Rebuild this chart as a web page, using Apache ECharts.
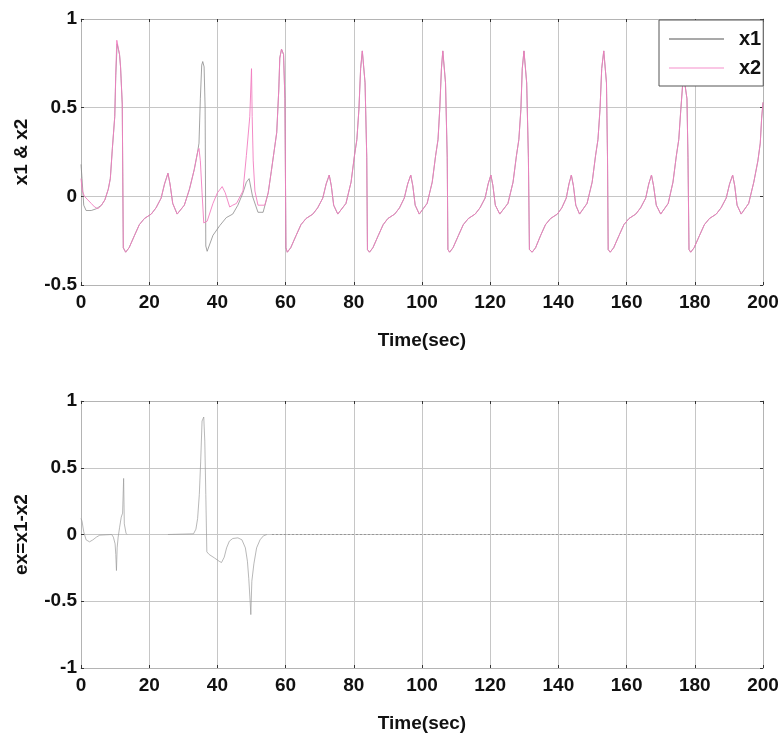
<!DOCTYPE html>
<html>
<head>
<meta charset="utf-8">
<script src="https://cdn.jsdelivr.net/npm/echarts@6/dist/echarts.min.js"></script>
<style>
html,body{margin:0;padding:0;background:#fff;}
#chart{width:783px;height:742px;}
</style>
</head>
<body>
<div id="chart"></div>
<script>
// ---- data (time in sec, value) ----
const xTicks = [0, 20, 40, 60, 80, 100, 120, 140, 160, 180, 200];
const seriesNames = ['x1', 'x2'];

// x2 (pink)
const x2 = [
  [0,0.1],[0.4,0.03],[1,0],[2,-0.02],[3,-0.04],[4,-0.06],[5,-0.07],[6,-0.05],[7,-0.02],[8,0.04],[8.6,0.1],
  [9.2,0.27],[9.9,0.45],[10.2,0.7],[10.5,0.88],[11,0.87],[11.3,0.8],[11.6,0.73],[12.1,0.52],[12.4,-0.29],
  [13.1,-0.315],[14.1,-0.29],[15.7,-0.22],[17.1,-0.16],[18.6,-0.125],[20.6,-0.1],[22,-0.065],[23.5,-0.01],
  [24.5,0.07],[25.5,0.13],[26.1,0.07],[26.9,-0.04],[28.2,-0.1],[30.3,-0.05],[31.8,0.04],[33.2,0.15],[34.2,0.25],
  [34.6,0.27],[35,0.2],[35.5,0.02],[36,-0.15],[37,-0.14],[38.7,-0.04],[40,0.02],[41.4,0.055],[42.3,0.02],
  [43.6,-0.06],[44.5,-0.05],[45.6,-0.04],[47.5,0.03],[48.5,0.23],[49.5,0.45],[50,0.72],[50.2,0.45],[50.5,0.2],
  [51,0.03],[51.9,-0.05],[53.9,-0.05],[54.9,0.02],[55.8,0.14],[57.4,0.36],[58,0.6],[58.3,0.78],[58.8,0.83],
  [59.4,0.8],[59.8,0.55],[60.1,-0.29],
  [60.5,-0.315],[61.5,-0.29],[63.1,-0.22],[64.5,-0.16],[66,-0.125],[68,-0.1],[69.4,-0.065],[70.9,-0.01],
  [71.9,0.07],[72.8,0.12],[73.4,0.06],[74.1,-0.05],[75.3,-0.1],[77.7,-0.04],[79.2,0.08],[80.2,0.23],
  [80.9,0.32],[81.5,0.49],[82,0.72],[82.5,0.82],[83,0.81],[83.3,0.64],[83.8,0.22],[84,-0.3],
  [84.6,-0.315],[85.6,-0.29],[87.2,-0.22],[88.6,-0.16],[90,-0.125],[92,-0.1],[93.4,-0.065],[94.8,-0.01],
  [95.8,0.07],[96.7,0.12],[97.3,0.06],[98,-0.05],[99.2,-0.1],[101.5,-0.04],[103,0.08],[104,0.23],
  [104.7,0.32],[105.2,0.49],[105.7,0.72],[106.1,0.82],[106.6,0.81],[106.9,0.64],[107.4,0.22],[107.6,-0.3],
  [108.1,-0.315],[109.1,-0.29],[110.7,-0.22],[112.1,-0.16],[113.6,-0.125],[115.6,-0.1],[117,-0.065],[118.5,-0.01],
  [119.4,0.07],[120.2,0.12],[120.8,0.06],[121.5,-0.05],[122.8,-0.1],[125.2,-0.04],[126.7,0.08],[127.7,0.23],
  [128.4,0.32],[129,0.49],[129.4,0.72],[129.9,0.82],[130.4,0.81],[130.7,0.64],[131.2,0.22],[131.5,-0.3],
  [132.3,-0.315],[133.3,-0.29],[134.8,-0.22],[136.2,-0.16],[137.7,-0.125],[139.7,-0.1],[141,-0.065],[142.3,-0.01],
  [143.1,0.07],[143.8,0.12],[144.4,0.06],[145.1,-0.05],[146.2,-0.1],[148.4,-0.04],[149.9,0.08],[150.9,0.23],
  [151.6,0.32],[152.2,0.49],[152.7,0.72],[153.3,0.82],[153.8,0.81],[154.1,0.64],[154.4,0.22],[154.6,-0.3],
  [155.2,-0.315],[156.2,-0.29],[157.8,-0.22],[159.2,-0.16],[160.7,-0.125],[162.7,-0.1],[164.1,-0.065],[165.6,-0.01],
  [166.5,0.07],[167.3,0.12],[167.9,0.06],[168.7,-0.05],[170,-0.1],[172.2,-0.04],[173.6,0.08],[174.6,0.23],
  [175.3,0.32],[175.9,0.49],[176.4,0.62],[176.9,0.66],[177.4,0.65],[177.7,0.55],[178,0.22],[178.3,-0.3],
  [178.8,-0.315],[179.8,-0.29],[181.4,-0.22],[182.8,-0.16],[184.3,-0.125],[186.3,-0.1],[187.7,-0.065],[189.2,-0.01],
  [190.2,0.07],[191.1,0.12],[191.7,0.06],[192.4,-0.05],[193.6,-0.1],[195.8,-0.04],[197.3,0.08],[198.5,0.2],
  [199.2,0.3],[199.6,0.44],[200,0.53]
];

// x1 (gray): differs from x2 only during the first ~55 s
const x1Start = [
  [0,0.18],[0.3,0.1],[0.8,-0.05],[1.5,-0.08],[3,-0.08],[4.5,-0.07],[5,-0.07],[6,-0.05],[7,-0.02],[8,0.04],
  [8.6,0.1],[9.2,0.27],[9.9,0.45],[10.2,0.68],[10.6,0.86],[11,0.86],[11.3,0.8],[11.6,0.73],[12.1,0.52],
  [12.4,-0.29],[13.1,-0.315],[14.1,-0.29],[15.7,-0.22],[17.1,-0.16],[18.6,-0.125],[20.6,-0.1],[22,-0.065],
  [23.5,-0.01],[24.5,0.07],[25.5,0.13],[26.1,0.07],[26.9,-0.04],[28.2,-0.1],[30.3,-0.05],[31.8,0.04],
  [33.2,0.15],[34.2,0.25],[34.6,0.3],[35,0.55],[35.4,0.74],[35.7,0.76],[36.1,0.73],[36.4,0.5],[36.6,-0.28],
  [37,-0.31],[38.7,-0.22],[40.7,-0.165],[42.6,-0.12],[44.5,-0.1],[46,-0.05],[47.5,0.02],[48.5,0.08],
  [49.3,0.1],[50.3,0],[51.9,-0.09],[53.4,-0.09],[54.5,-0.01],[54.9,0.02]
];
const x1 = x1Start.concat(x2.filter(p => p[0] > 55));

// ex = x1 - x2 (bottom panel)
const ex = [
  [0,0.12],[0.3,0.1],[0.8,0.02],[1.5,-0.04],[2.5,-0.055],[3.5,-0.04],[4.5,-0.02],[5.5,-0.005],[6,0],[9,0],
  [9.5,-0.02],[10,-0.07],[10.2,-0.15],[10.4,-0.27],[10.6,-0.1],[10.9,-0.02],[11.3,0.05],[11.8,0.13],
  [12.2,0.16],[12.5,0.42],[12.7,0.08],[13.2,0.01],[13.5,0],[19,'-'],
  [25.5,0],[33,0.005],[33.7,0.04],[34.2,0.12],[34.7,0.3],[35.1,0.55],[35.5,0.85],[36,0.88],[36.3,0.7],
  [36.6,0.3],[36.9,-0.13],[37.6,-0.15],[39.1,-0.175],[40.5,-0.2],[41.2,-0.21],[42,-0.17],[42.7,-0.1],
  [43.5,-0.05],[44.5,-0.03],[46,-0.025],[47.2,-0.04],[48.2,-0.1],[48.8,-0.2],[49.2,-0.33],[49.6,-0.5],
  [49.8,-0.6],[50.1,-0.35],[50.7,-0.22],[51.5,-0.1],[52.5,-0.04],[53.5,-0.01],[54.5,0]
];
const exTail = [[56,0],[200,0]];

// ---- chart ----
const FONT = "'Liberation Sans',Arial,sans-serif";
const chart = echarts.init(document.getElementById('chart'), null, {renderer: 'canvas'});

function xAx(gi, pos, labels, name) {
  return {
    type: 'value', gridIndex: gi, position: pos, min: 0, max: 200, interval: 20,
    name: name || '', nameLocation: 'middle', nameGap: 46,
    nameTextStyle: {fontFamily: FONT, fontWeight: 'bold', fontSize: 19, color: '#111'},
    axisLine: {show: true, onZero: false, lineStyle: {color: '#b4b4b4', width: 1}},
    axisTick: {show: true, inside: true, length: 3, lineStyle: {color: '#333'}},
    axisLabel: {show: labels, fontFamily: FONT, fontWeight: 'bold', fontSize: 19, color: '#111', margin: 8},
    splitLine: {show: pos === 'bottom', lineStyle: {color: '#c6c6c6', width: 1}}
  };
}
function yAx(gi, pos, min, max, labels, name) {
  return {
    type: 'value', gridIndex: gi, position: pos, min: min, max: max, interval: 0.5,
    name: name || '', nameLocation: 'middle', nameGap: 50, nameRotate: 90,
    nameTextStyle: {fontFamily: FONT, fontWeight: 'bold', fontSize: 19, color: '#111'},
    axisLine: {show: true, onZero: false, lineStyle: {color: '#b4b4b4', width: 1}},
    axisTick: {show: true, inside: true, length: 3, lineStyle: {color: '#333'}},
    axisLabel: {show: labels, fontFamily: FONT, fontWeight: 'bold', fontSize: 19, color: '#111', margin: 4},
    splitLine: {show: pos === 'left', lineStyle: {color: '#c6c6c6', width: 1}}
  };
}

chart.setOption({
  animation: false,
  backgroundColor: '#fff',
  grid: [
    {left: 81, top: 19, width: 682, height: 266},
    {left: 81, top: 401, width: 682, height: 267}
  ],
  legend: {
    data: seriesNames, orient: 'vertical', left: 659, top: 20,
    backgroundColor: '#fff', borderColor: '#555', borderWidth: 1,
    padding: [9, 2, 8, 10], itemGap: 9, itemWidth: 55, itemHeight: 1.5, icon: 'rect',
    textStyle: {fontFamily: FONT, fontWeight: 'bold', fontSize: 20, color: '#111', padding: [0, 0, 0, 10]},
    z: 20
  },
  xAxis: [
    xAx(0, 'bottom', true, 'Time(sec)'), xAx(0, 'top', false),
    xAx(1, 'bottom', true, 'Time(sec)'), xAx(1, 'top', false)
  ],
  yAxis: [
    yAx(0, 'left', -0.5, 1, true, 'x1 & x2'), yAx(0, 'right', -0.5, 1, false),
    yAx(1, 'left', -1, 1, true, 'ex=x1-x2'), yAx(1, 'right', -1, 1, false)
  ],
  series: [
    {name: 'x1', type: 'line', xAxisIndex: 0, yAxisIndex: 0, data: x1, showSymbol: false,
     lineStyle: {color: '#8c8c8c', width: 0.8}, itemStyle: {color: '#8c8c8c'}},
    {name: 'x2', type: 'line', xAxisIndex: 0, yAxisIndex: 0, data: x2, showSymbol: false,
     lineStyle: {color: '#f27dbf', width: 0.9}, itemStyle: {color: '#f8b4dc'}},
    {name: 'ex', type: 'line', xAxisIndex: 2, yAxisIndex: 2, data: ex, showSymbol: false, connectNulls: false,
     lineStyle: {color: '#9a9a9a', width: 0.7}},
    {name: 'ex', type: 'line', xAxisIndex: 2, yAxisIndex: 2, data: exTail, showSymbol: false,
     lineStyle: {color: '#8a8a8a', width: 0.8, type: [2, 2]}}
  ]
});
</script>
</body>
</html>
